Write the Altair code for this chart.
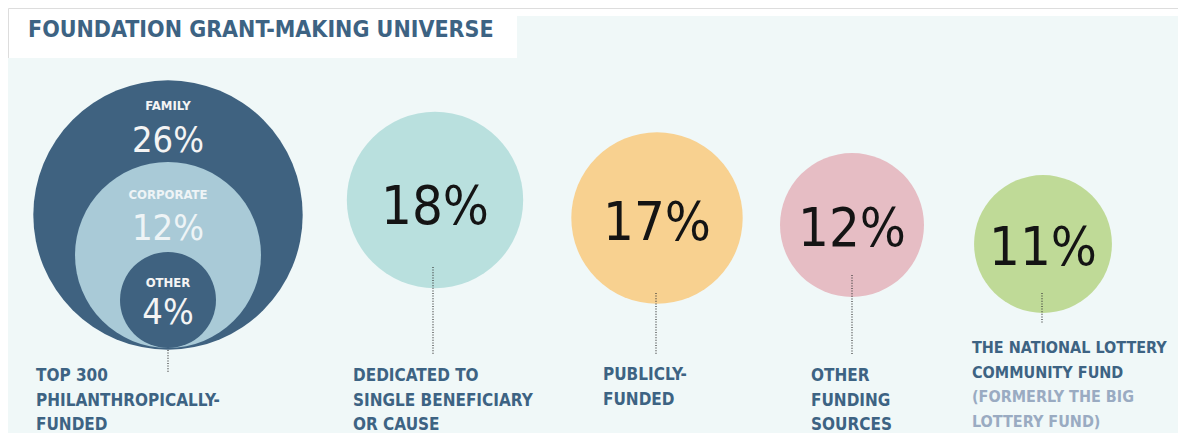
import altair as alt
import pandas as pd

# ---------------- data ----------------
categories = [
    "TOP 300\nPHILANTHROPICALLY-\nFUNDED",
    "DEDICATED TO\nSINGLE BENEFICIARY\nOR CAUSE",
    "PUBLICLY-\nFUNDED",
    "OTHER\nFUNDING\nSOURCES",
    "THE NATIONAL LOTTERY\nCOMMUNITY FUND",
]
shares = [42, 18, 17, 12, 11]          # % of foundation grant-making
sub_names = ["FAMILY", "CORPORATE", "OTHER"]
sub_shares = [26, 12, 4]               # breakdown of the top 300
note_text = "(FORMERLY THE BIG\nLOTTERY FUND)"
title_text = "FOUNDATION GRANT-MAKING UNIVERSE"

# ---------------- layout (pixel coordinates) ----------------
W, H = 1170, 425
XMIN, XMAX = 8, 8 + W
YMIN, YMAX = 8, 8 + H
bubble_x = [168, 435, 657, 852, 1043]
bubble_y = [215, 200, 218, 225, 244]
bubble_colors = ["#3f6280", "#b9e0de", "#f8d190", "#e6bdc4", "#bfda97"]
pct_baseline = [0, 224, 240, 246, 265]
nested_x = [168, 168]
nested_y = [255, 300]
nested_size = [4 * 93 ** 2, 4 * 48 ** 2]
nested_colors = ["#a9cad7", "#3f6280"]
sub_name_base = [110, 199, 287]
sub_pct_base = [152, 240, 324]
sub_colors = ["#f4f4f4", "#eef4f6", "#f4f4f4"]
lead_x = [168, 433, 656, 852, 1042]
lead_y1 = [350, 267, 293, 275, 293]
lead_y2 = [373, 355, 355, 355, 324]
label_x = [36, 353, 603, 811, 972]
label_base = [381, 381, 380, 381, 353]
label_size = [17, 17, 17, 17, 16]
LINE_H = 24.5
DARK = "#3d6383"
PANEL = "#f0f8f8"

COND = "DejaVu Sans Condensed, Liberation Sans Narrow, sans-serif"

xs = alt.Scale(domain=[XMIN, XMAX], nice=False, zero=False)
ys = alt.Scale(domain=[YMIN, YMAX], nice=False, zero=False, reverse=True)
X = lambda f: alt.X(f, type="quantitative", scale=xs, axis=None)
Y = lambda f: alt.Y(f, type="quantitative", scale=ys, axis=None)

# backgrounds
bg = pd.DataFrame({"x": [8, 517], "x2": [1186, 1186], "y": [58, 16], "y2": [447, 58]})
panel = alt.Chart(bg).mark_rect(color=PANEL, clip=True).encode(
    x=X("x"), x2="x2", y=Y("y"), y2="y2")

main = pd.DataFrame({
    "category": categories, "share": shares, "x": bubble_x, "y": bubble_y,
    "color": bubble_colors,
    "pct": ["" if i == 0 else f"{s}%" for i, s in enumerate(shares)],
    "pb": pct_baseline,
    "lx": label_x, "lb": label_base, "ls": label_size,
    "ax": lead_x, "ay1": lead_y1, "ay2": lead_y2,
})

bubbles = alt.Chart(main).mark_circle(opacity=1).encode(
    x=X("x"), y=Y("y"),
    size=alt.Size("share:Q", scale=alt.Scale(domain=[0, 50], range=[0, 50 * 4 * 432]), legend=None),
    color=alt.Color("color:N", scale=None),
)

nested = pd.DataFrame({"x": nested_x, "y": nested_y, "s": nested_size, "color": nested_colors})
inner = alt.Chart(nested).mark_circle(opacity=1).encode(
    x=X("x"), y=Y("y"),
    size=alt.Size("s:Q", scale=None),
    color=alt.Color("color:N", scale=None),
)

pct_text = alt.Chart(main[main["pct"] != ""]).mark_text(
    font=COND, fontSize=54, baseline="alphabetic", align="center", color="#141414"
).encode(x=X("x"), y=Y("pb"), text="pct:N")

subs = pd.DataFrame({
    "name": sub_names, "pct": [f"{v}%" for v in sub_shares],
    "x": [168] * 3, "nb": sub_name_base, "pb": sub_pct_base, "c": sub_colors,
})
sub_name_text = alt.Chart(subs).mark_text(
    font=COND, fontSize=13, fontWeight="bold", baseline="alphabetic", align="center"
).encode(x=X("x"), y=Y("nb"), text="name:N", color=alt.Color("c:N", scale=None))
sub_pct_text = alt.Chart(subs).mark_text(
    font=COND, fontSize=36, baseline="alphabetic", align="center"
).encode(x=X("x"), y=Y("pb"), text="pct:N", color=alt.Color("c:N", scale=None))

leaders = alt.Chart(main).mark_rule(color="#3a3a3a", strokeWidth=1.2, strokeDash=[1, 1.6]).encode(
    x=X("ax"), y=Y("ay1"), y2="ay2")

labels = alt.Chart(main).mark_text(
    font=COND, fontWeight="bold", baseline="alphabetic", align="left",
    lineBreak="\n", lineHeight=LINE_H, color=DARK
).encode(x=X("lx"), y=Y("lb"), text="category:N",
         size=alt.Size("ls:Q", scale=None))

note = alt.Chart(pd.DataFrame({"t": [note_text], "x": [label_x[4]], "y": [label_base[4] + 2 * LINE_H]})).mark_text(
    font=COND, fontSize=label_size[4], fontWeight="bold", baseline="alphabetic", align="left",
    lineBreak="\n", lineHeight=LINE_H, color="#9aabc2"
).encode(x=X("x"), y=Y("y"), text="t:N")

title = alt.Chart(pd.DataFrame({"t": [title_text], "x": [28], "y": [37]})).mark_text(
    font=COND, fontSize=23, fontWeight="bold", baseline="alphabetic", align="left", color=DARK
).encode(x=X("x"), y=Y("y"), text="t:N")

chart = alt.layer(
    panel, bubbles, inner, pct_text, sub_name_text, sub_pct_text, leaders, labels, note, title
).resolve_scale(size="independent", color="independent").properties(
    width=W, height=H, padding=0, autosize=alt.AutoSizeParams(type="none")
).configure_view(stroke=None).configure(background="white")

chart.save("out.html", embed_options={"renderer": "svg", "actions": False})
